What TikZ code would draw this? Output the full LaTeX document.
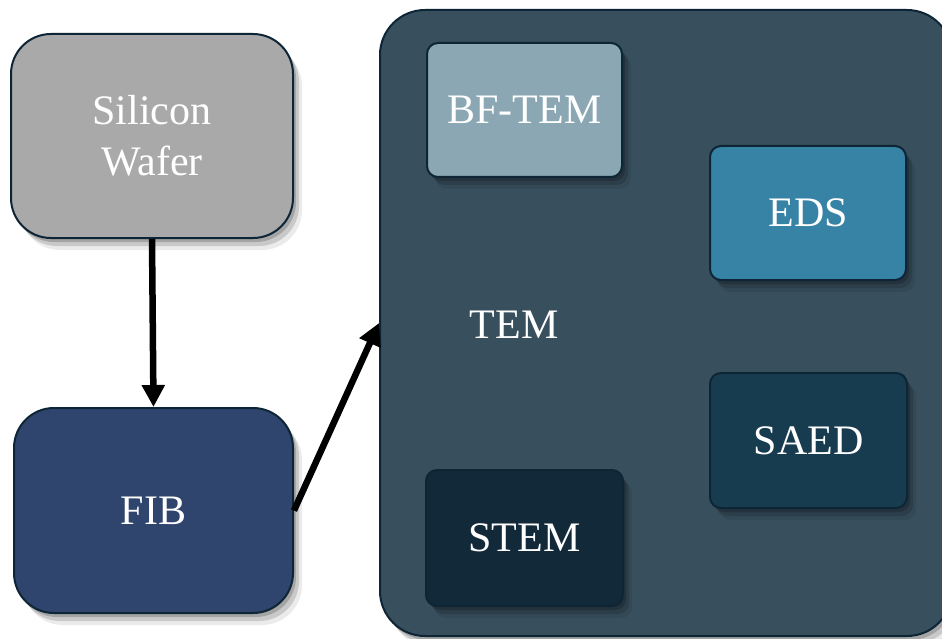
\documentclass[tikz,border=0pt]{standalone}
\usepackage{fontspec}
\setmainfont{Liberation Serif}
\usetikzlibrary{arrows.meta,shadows}
\definecolor{bordc}{HTML}{0D2535}
\definecolor{waferc}{HTML}{A9A9A9}
\definecolor{fibc}{HTML}{30456E}
\definecolor{temc}{HTML}{38505E}
\definecolor{bfc}{HTML}{8AA7B3}
\definecolor{edsc}{HTML}{3783A6}
\definecolor{saedc}{HTML}{173C50}
\definecolor{stemc}{HTML}{12293A}
\begin{document}
\begin{tikzpicture}[x=1pt,y=-1pt,
  box/.style={draw=bordc, line width=2pt, rounded corners=#1, text=white,
    font=\fontsize{42}{51}\selectfont, inner sep=0pt, align=center,
    drop shadow={shadow xshift=3pt, shadow yshift=-4pt, opacity=0.18, fill=black},
    drop shadow={shadow xshift=6pt, shadow yshift=-8pt, opacity=0.14, fill=black},
    drop shadow={shadow xshift=9pt, shadow yshift=-12pt, opacity=0.08, fill=black}},
  box/.default=40pt,
  arr/.style={line width=6.5pt, -{Triangle[length=22pt,width=22pt]}},
  lbl/.style={text=white, font=\fontsize{42}{51}\selectfont, inner sep=0pt}
]
\useasboundingbox[fill=white] (0,0) rectangle (942,639);
\node[box, fill=waferc, minimum width=282pt, minimum height=204pt] (sw) at (152,136) {Silicon\\Wafer};
\node[box, fill=fibc, minimum width=279pt, minimum height=205pt] (fib) at (153.5,510.5) {FIB};
\node[box=45pt, fill=temc, minimum width=572pt, minimum height=626pt] (tem) at (666,323) {};
\node[lbl] (temlbl) at (514,325) {TEM};
\node[box=11pt, fill=bfc, minimum width=195pt, minimum height=134pt] (bf) at (524.5,110) {BF-TEM};
\node[box=11pt, fill=edsc, minimum width=196pt, minimum height=134pt] (eds) at (808,213) {EDS};
\node[box=11pt, fill=saedc, minimum width=197pt, minimum height=135pt] (saed) at (808.5,440.5) {SAED};
\node[box=11pt, fill=stemc, minimum width=197pt, minimum height=136pt] (stem) at (524.5,538) {STEM};
\draw[arr] (sw.south) -- (fib.north);
\draw[arr] (fib.east) -- (tem.west);
\end{tikzpicture}
\end{document}
